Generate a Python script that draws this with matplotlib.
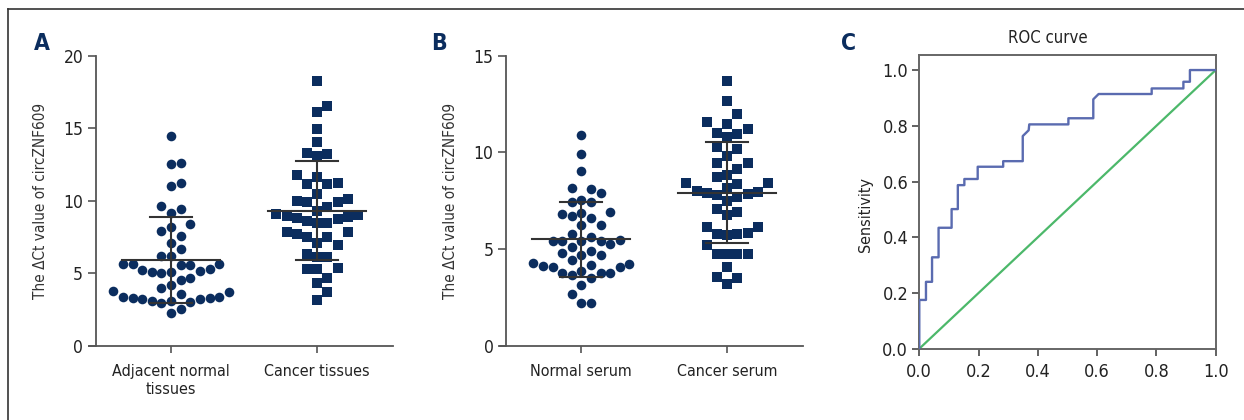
import numpy as np
import matplotlib
matplotlib.use("Agg")
from matplotlib import pyplot as plt
from matplotlib import font_manager

# Data
tissue_labels = ["Adjacent normal\ntissues", "Cancer tissues"]
normal_tissue = [14.48, 12.6, 12.51, 10.99, 11.24, 9.43, 9.63, 9.15, 8.21, 8.37,
                 7.59, 7.91, 7.08, 6.67, 6.21, 6.16, 5.66, 5.62, 5.64, 5.6, 5.57,
                 5.22, 5.08, 4.98, 5.06, 5.16, 5.28, 4.55, 4.67, 3.96, 3.72, 3.54,
                 3.77, 4.16, 3.3, 3.34, 3.22, 3.05, 2.98, 2.95, 3.1, 3.2, 3.32,
                 3.35, 2.23, 2.55]
cancer_tissue = [18.26, 16.53, 16.14, 14.97, 14.07, 13.29, 13.1, 13.24, 11.24,
                 11.13, 11.66, 11.77, 11.17, 9.93, 9.59, 10.14, 9.89, 10.0, 10.44,
                 9.31, 8.62, 8.44, 9.06, 8.94, 8.78, 8.9, 9.01, 8.44, 8.72, 7.82,
                 7.1, 7.52, 7.52, 7.68, 7.82, 6.97, 6.32, 6.14, 6.14, 5.38, 5.27,
                 5.31, 4.69, 4.34, 3.72, 3.15]

serum_labels = ["Normal serum", "Cancer serum"]
normal_serum = [10.88, 9.93, 9.02, 8.17, 7.92, 8.11, 7.43, 7.43, 7.55, 6.9, 6.81,
                6.61, 6.73, 6.88, 6.23, 6.26, 5.62, 5.47, 5.43, 5.26, 5.12, 5.43,
                5.43, 5.43, 5.79, 4.88, 4.68, 4.45, 4.16, 4.09, 4.09, 4.14, 4.21,
                4.26, 4.68, 4.78, 3.78, 3.74, 3.5, 3.67, 3.74, 3.88, 3.14, 2.69,
                2.19, 2.19]
cancer_serum = [13.71, 12.67, 11.99, 11.57, 11.23, 11.02, 10.81, 10.95, 11.49,
                10.26, 10.19, 9.83, 9.45, 9.47, 9.16, 8.85, 8.74, 8.43, 8.14, 7.97,
                7.8, 7.71, 7.83, 7.88, 8.02, 8.38, 8.42, 7.47, 6.93, 6.78, 7.07,
                6.16, 5.85, 5.74, 5.76, 5.79, 6.16, 5.22, 4.74, 4.74, 4.74, 4.74,
                4.09, 3.5, 3.54, 3.19]

roc_fpr = [0, 0, 0.0225, 0.0225, 0.043, 0.043, 0.065, 0.065, 0.109, 0.109, 0.13,
           0.13, 0.152, 0.152, 0.197, 0.197, 0.283, 0.283, 0.349, 0.349, 0.369,
           0.371, 0.503, 0.503, 0.587, 0.587, 0.605, 0.784, 0.784, 0.891, 0.891,
           0.913, 0.913, 1.0]
roc_tpr = [0, 0.175, 0.175, 0.24, 0.24, 0.328, 0.328, 0.434, 0.434, 0.501, 0.501,
           0.587, 0.587, 0.609, 0.609, 0.653, 0.653, 0.673, 0.673, 0.763, 0.784,
           0.805, 0.805, 0.827, 0.827, 0.895, 0.914, 0.914, 0.934, 0.934, 0.958,
           0.958, 1.0, 1.0]
ref_line = [0, 1]

# Fonts: use a condensed face if one is installed, else Roboto
fam, stretch = "Roboto", "normal"
for f in font_manager.fontManager.ttflist:
  if "Condensed" in f.name or "Narrow" in f.name:
    fam = f.name
    break
  if f.stretch in ("condensed", "semi-condensed") and f.weight in (400, "normal"):
    fam, stretch = f.name, "condensed"
    break
plt.rcParams["font.family"] = [fam, "DejaVu Sans"]
plt.rcParams["font.stretch"] = stretch

NAVY = "#0b2d5e"
W, H = 1244, 420


def slot_swarm(vals, px_x, px_y, slot, hcol):
  # GraphPad-like scatter: points sit in fixed columns, a column is taken
  # when a point in it lies closer than hcol pixels vertically
  vals = np.asarray(vals, float)
  order = np.argsort(vals)
  xs = np.zeros(len(vals))
  cols = {}
  seq = [0]
  for j in range(1, 40):
    seq += [j, -j]
  for i in order:
    y = vals[i] * px_y
    for c in seq:
      if all(abs(y - yy) >= hcol for yy in cols.get(c, [])):
        cols.setdefault(c, []).append(y)
        xs[i] = c * slot / px_x
        break
  return xs


def dot_panel(ax, groups, labels, ymax, ystep, ylabel_x):
  px_x = 146.0
  px_y = 290.0 / ymax
  for k, (vals, mk) in enumerate(zip(groups, ["o", "s"])):
    offs = slot_swarm(vals, px_x, px_y, 9.6 if mk == "o" else 10.2, 12.5)
    ax.scatter(k + offs, vals, s=48 if mk == "o" else 50, marker=mk, color=NAVY,
               linewidths=0, zorder=3)
    m = np.mean(vals)
    sd = np.std(vals, ddof=1)
    ax.plot([k - 0.335, k + 0.335], [m, m], color="#333333", lw=1.5, zorder=4)
    ax.plot([k, k], [m - sd, m + sd], color="#333333", lw=1.5, zorder=4)
    for v in (m - sd, m + sd):
      ax.plot([k - 0.145, k + 0.145], [v, v], color="#333333", lw=1.5, zorder=4)
  ax.set_xlim(-0.516, 1.521)
  ax.set_ylim(0, ymax)
  ax.set_yticks(np.arange(0, ymax + 0.1, ystep))
  ax.set_xticks([0, 1])
  ax.set_xticklabels(labels, fontsize=11.5, color="#222222", linespacing=1.25)
  ax.tick_params(axis="y", labelsize=12.5, length=6, width=1.2,
                 color="#555555", labelcolor="#222222", pad=3)
  ax.tick_params(axis="x", length=5, width=1.2, color="#555555", pad=8)
  for s in ("top", "right"):
    ax.spines[s].set_visible(False)
  for s in ("left", "bottom"):
    ax.spines[s].set_color("#555555")
    ax.spines[s].set_linewidth(1.3)
  ax.spines["bottom"].set_bounds(-0.56, 1.521)
  ax.set_ylabel("The \u0394Ct value of circZNF609", fontsize=11, color="#333333")
  ax.yaxis.set_label_coords(ylabel_x, 1 - 201 / H, transform=fig.transFigure)


fig = plt.figure(figsize=(W / 100, H / 100), dpi=100)

# panel A
axA = fig.add_axes([95.7 / W, 1 - 345.7 / H, 297.6 / W, 290 / H])
dot_panel(axA, [normal_tissue, cancer_tissue], tissue_labels, 20, 5, 48 / W)

# panel B
axB = fig.add_axes([506 / W, 1 - 345.7 / H, 297.3 / W, 290 / H])
dot_panel(axB, [normal_serum, cancer_serum], serum_labels, 15, 5, 458 / W)

# panel C
axC = fig.add_axes([919.3 / W, 1 - 348.7 / H, 296.4 / W, 293.7 / H])
axC.plot(ref_line, ref_line, color="#4cb86a", lw=1.6, zorder=2)
axC.plot(roc_fpr, roc_tpr, color="#5a6bb0", lw=1.7, zorder=3)
axC.set_xlim(0, 1)
axC.set_ylim(0, 1.054)
axC.set_xticks(np.arange(0, 1.01, 0.2))
axC.set_yticks(np.arange(0, 1.01, 0.2))
axC.xaxis.set_major_formatter(plt.FormatStrFormatter("%.1f"))
axC.yaxis.set_major_formatter(plt.FormatStrFormatter("%.1f"))
axC.tick_params(labelsize=13, length=5, width=1.3, color="#555555",
                labelcolor="#222222", pad=3)
axC.tick_params(axis="x", pad=5)
for s in axC.spines.values():
  s.set_color("#666666")
  s.set_linewidth(1.4)
fig.text(1048 / W, 1 - 38 / H, "ROC curve", fontsize=12, color="#222222",
         ha="center", va="center")
axC.set_ylabel("Sensitivity", fontsize=11.5, color="#222222")
axC.yaxis.set_label_coords(873 / W, 1 - 215 / H, transform=fig.transFigure)

# panel letters
for x, t in [(42, "A"), (439, "B"), (849, "C")]:
  fig.text(x / W, 1 - 43 / H, t, fontsize=16.5, fontweight="bold", color=NAVY,
           ha="center", va="center", family="DejaVu Sans")

# outer frame (top and left edges visible)
fig.add_artist(plt.Line2D([8 / W, 8 / W], [0, 1 - 9 / H], color="#333333", lw=1.2))
fig.add_artist(plt.Line2D([8 / W, 1], [1 - 9 / H, 1 - 9 / H], color="#333333", lw=1.2))

fig.savefig("out.png", dpi=100)
